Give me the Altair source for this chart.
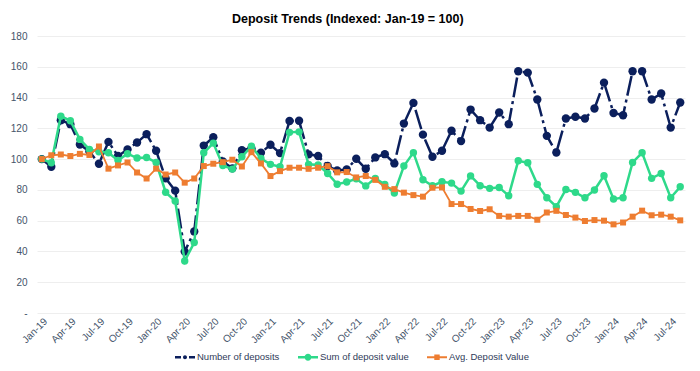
import altair as alt
import pandas as pd

MONTH_ABBR = ["Jan", "Feb", "Mar", "Apr", "May", "Jun", "Jul", "Aug", "Sep", "Oct", "Nov", "Dec"]
YEARS = ["19", "20", "21", "22", "23", "24"]
months = [f"{m}-{y}" for y in YEARS for m in MONTH_ABBR][:68]
tick_months = [m for m in months if m[:3] in ("Jan", "Apr", "Jul", "Oct")]

series_names = ["Number of deposits", "Sum of deposit value", "Avg. Deposit Value"]
series_colors = ["#0b1f5c", "#2ed98a", "#ee7d31"]

number_of_deposits = [
    100, 95, 125.3, 122.7, 109.5, 105, 97, 111.2, 102, 106.3, 110.8, 116.2,
    105.4, 87.5, 79.5, 39.9, 53, 108.8, 114.2, 98.5, 94, 105.8, 107, 104.2,
    109.3, 103.9, 124.8, 124.9, 103.1, 102, 95.5, 92.6, 93.3, 100.2, 93.7, 101.1,
    103.2, 97.2, 123.1, 136.5, 115.9, 101.5, 105.4, 118.4, 111.7, 132.2,
    125.3, 120.5, 130.3, 122.7, 157.1, 156.2, 138.7, 115.1, 104.3, 126.4, 127.5,
    126.4, 132.9, 149.7, 130, 128.5, 157.1, 157.1, 138.7, 142.6, 120.5, 136.8,
]
sum_of_deposit_value = [
    100, 97.6, 127.9, 124.9, 112.8, 106.3, 104.8, 104.1, 99.2, 103.5, 100.7, 101,
    97.8, 78.5, 72.8, 33.8, 45.8, 104.1, 110.4, 95.9, 93.5, 101.5, 108.4, 100.4,
    96.6, 95, 117.4, 117.7, 96.6, 96.2, 90.7, 83.7, 85.1, 87.2, 82.6, 87.5,
    83.5, 78, 95.5, 104.2, 86.6, 82.7, 85.3, 84.4, 79.2, 89.1,
    82.7, 81, 81.6, 76.2, 98.9, 97.6, 83.6, 74.9, 69.1, 80.3, 78.4,
    74.9, 79.9, 89.2, 74.1, 74.9, 97.8, 104.1, 87.5, 90.7, 74.9, 82,
]
avg_deposit_value = [
    100, 102.5, 103, 102, 103.4, 102.7, 108.2, 93.8, 95.9, 97.8, 91.3, 87.4,
    93.8, 90, 91.3, 84.7, 87.4, 95.5, 97, 98, 99.6, 95.2, 104.5, 97.2,
    89, 92.2, 94.4, 94.4, 93.7, 94.4, 95.4, 91.4, 91.6, 88.1, 89, 86.5,
    82, 80.5, 78.2, 76.6, 75.6, 81.4, 81.6, 70.8, 70.8, 67.6,
    66.3, 67.4, 63.1, 62.6, 63.1, 63.1, 60.6, 65.3, 66.4, 63.7, 62,
    59.8, 60.4, 60, 57.6, 58.8, 62.6, 66.5, 63.5, 63.9, 62.6, 60.2,
]

rows = []
for name, vals in zip(series_names, [number_of_deposits, sum_of_deposit_value, avg_deposit_value]):
    for m, v in zip(months, vals):
        rows.append({"month": m, "series": name, "value": v})
df = pd.DataFrame(rows)

AXIS_COLOR = "#44546a"
FONT = "Liberation Sans"

x_enc = alt.X(
    "month:O",
    sort=months,
    scale=alt.Scale(domain=months),
    axis=alt.Axis(
        title=None, values=tick_months, labelAngle=-45, ticks=False, domain=False,
        grid=False, labelOverlap=False, labelColor=AXIS_COLOR, labelFontSize=10,
        labelPadding=3,
    ),
)
y_enc = alt.Y(
    "value:Q",
    scale=alt.Scale(domain=[0, 180], nice=False),
    axis=alt.Axis(
        title=None, values=list(range(0, 181, 20)), grid=True, gridColor="#eeeeee",
        gridWidth=1, domain=False, ticks=False, labelColor=AXIS_COLOR, labelFontSize=10,
        labelPadding=10, labelExpr="datum.value == 0 ? '-' : datum.label",
    ),
)
color_scale = alt.Scale(domain=series_names, range=series_colors)

styles = {
    "Number of deposits": dict(shape="circle", size=70, sw=2.5, dash=[20, 4, 3, 4]),
    "Sum of deposit value": dict(shape="circle", size=55, sw=2.5, dash=None),
    "Avg. Deposit Value": dict(shape="square", size=36, sw=1.8, dash=None),
}

legend_paths = [
    "M-1,-0.12L-0.4,-0.12L-0.4,0.12L-1,0.12Z M0.4,-0.12L1,-0.12L1,0.12L0.4,0.12Z "
    "M-0.2,0A0.2,0.2 0 1,1 0.2,0A0.2,0.2 0 1,1 -0.2,0Z",
    "M-1,-0.12L-0.25,-0.12L-0.25,0.12L-1,0.12Z M0.25,-0.12L1,-0.12L1,0.12L0.25,0.12Z "
    "M-0.34,0A0.34,0.34 0 1,1 0.34,0A0.34,0.34 0 1,1 -0.34,0Z",
    "M-1,-0.09L-0.2,-0.09L-0.2,0.09L-1,0.09Z M0.2,-0.09L1,-0.09L1,0.09L0.2,0.09Z "
    "M-0.27,-0.27L0.27,-0.27L0.27,0.27L-0.27,0.27Z",
]
legend_def = alt.Legend(
    title=None, orient="none", legendX=138, legendY=311, direction="horizontal",
    labelFontSize=9.5, labelColor="#2f3b59", labelFont=FONT, symbolSize=400,
    symbolStrokeWidth=0, columnPadding=18, labelOffset=2, padding=0,
)
color_leg = alt.Color("series:N", scale=color_scale, legend=legend_def)
shape_leg = alt.Shape(
    "series:N", scale=alt.Scale(domain=series_names, range=legend_paths), legend=legend_def
)

# legend-only layer (zero-size points) comes first so it owns the shared legend
layers = [
    alt.Chart(df).mark_point(filled=True, size=0, opacity=1).encode(
        x=x_enc, y=y_enc, color=color_leg, shape=shape_leg
    )
]
for name in series_names:
    st = styles[name]
    base = alt.Chart(df).transform_filter(alt.datum.series == name)
    line_kwargs = dict(strokeWidth=st["sw"])
    if st["dash"]:
        line_kwargs["strokeDash"] = st["dash"]
    line = base.mark_line(**line_kwargs).encode(
        x=x_enc, y=y_enc, color=alt.Color("series:N", scale=color_scale, legend=None)
    )
    pts = base.mark_point(filled=True, shape=st["shape"], size=st["size"], opacity=1).encode(
        x=x_enc, y=y_enc, color=alt.Color("series:N", scale=color_scale, legend=None)
    )
    layers += [line, pts]

chart = alt.layer(*layers).properties(
    width=648,
    height=277,
    padding={"left": 2, "right": 5, "top": 4, "bottom": 0},
    title=alt.TitleParams(
        "Deposit Trends (Indexed: Jan-19 = 100)", fontSize=12.5, fontWeight="bold",
        font=FONT, color="#000000", offset=6, frame="bounds", anchor="middle",
    ),
).configure(font=FONT).configure_view(stroke=None)

chart.save("out.html", embed_options={"renderer": "svg", "actions": False})
